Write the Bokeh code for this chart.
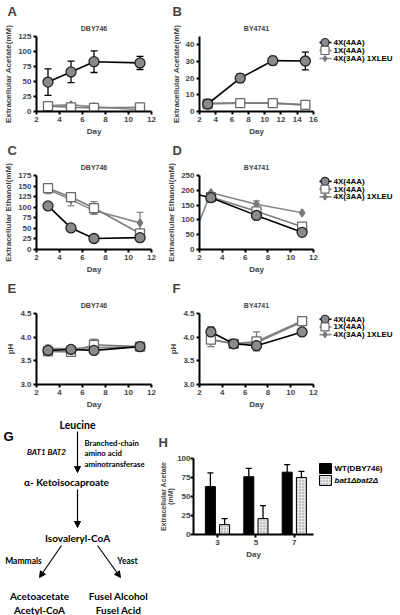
import numpy as np
from bokeh.plotting import figure
from bokeh.models import (Range1d, FixedTicker, Whisker, Title,
                          ColumnDataSource, TeeHead, Arrow, NormalHead, PrintfTickFormatter)
from bokeh.layouts import column, row
from bokeh.transform import dodge
from bokeh.core.properties import value
from bokeh.embed import file_html
from bokeh.resources import INLINE

# ---------------- data ----------------
SERIES = ["4X(4AA)", "1X(4AA)", "4X(3AA) 1XLEU"]

A_days = [3, 5, 7, 11]
A_4x4 = [49, 66, 83, 81]
A_4x4_err = [22, 18, 18, 11]
A_1x4 = [9, 7, 6, 7]
A_1x4_err = [0, 0, 0, 0]
A_leu = [10, 11, 8, 3]
A_leu_err = [0, 0, 0, 0]

B_days = [3, 7, 11, 15]
B_4x4 = [4.5, 20, 30.5, 30.3]
B_4x4_err = [0, 2.5, 2.5, 5.3]
B_1x4 = [4.5, 5, 5, 4]
B_1x4_err = [0, 0, 0, 0]
B_leu = [5, 5, 5, 4]
B_leu_err = [0, 0, 0, 0]

C_days = [3, 5, 7, 11]
C_4x4 = [103, 51, 26, 28]
C_4x4_err = [4, 0, 0, 0]
C_1x4 = [145, 124, 98, 38]
C_1x4_err = [8, 8, 15, 0]
C_leu = [142, 118, 92, 63]
C_leu_err = [10, 15, 8, 25]

D_days = [2, 3, 7, 11]
D_4x4 = [184, 175, 115, 58]
D_4x4_err = [0, 0, 0, 0]
D_1x4 = [np.nan, 177, 129, 77]
D_1x4_err = [0, 0, 0, 0]
D_leu = [96, 192, 153, 124]
D_leu_err = [0, 0, 11, 0]

E_days = [3, 5, 7, 11]
E_4x4 = [3.72, 3.74, 3.72, 3.80]
E_4x4_err = [0, 0, 0, 0]
E_1x4 = [3.70, 3.69, 3.84, 3.80]
E_1x4_err = [0, 0.07, 0.12, 0]
E_leu = [3.76, 3.76, 3.78, 3.80]
E_leu_err = [0.07, 0.04, 0, 0]

F_days = [3, 5, 7, 11]
F_4x4 = [4.11, 3.86, 3.82, 4.11]
F_4x4_err = [0.1, 0, 0, 0]
F_1x4 = [3.95, 3.86, 3.91, 4.34]
F_1x4_err = [0.15, 0, 0.2, 0]
F_leu = [3.95, 3.86, 3.88, 4.32]
F_leu_err = [0, 0, 0, 0]

H_days = [3, 5, 7]
H_wt = [63, 76, 82]
H_wt_err = [18, 11, 10]
H_bat = [13, 21, 75]
H_bat_err = [8, 17, 8]
H_LABELS = ["WT(DBY746)", "bat1\u0394bat2\u0394"]

# ---------------- style helpers ----------------
FONT = "Liberation Sans"
DIAG_FONT = "Lato"

STY = {
    0: dict(line="black", marker="circle", size=10, fill="#8a8a8a", mline="#222222"),
    1: dict(line="#7d7d7d", marker="square", size=9, fill="white", mline="#6a6a6a"),
    2: dict(line="#8a8a8a", marker="diamond", size=8, fill="#7a7a7a", mline="#7a7a7a"),
}
LEG_SIZE = [8, 8, 6]


def make_fig(w, h, bl, br, bt, bb, xr, yr, axes=True):
    kw = {} if axes else dict(x_axis_type=None, y_axis_type=None)
    p = figure(width=w, height=h, x_range=Range1d(*xr), y_range=Range1d(*yr),
               output_backend="svg", toolbar_location=None, title=None,
               min_border_left=bl, min_border_right=br, min_border_top=bt,
               min_border_bottom=bb, **kw)
    p.grid.visible = False
    p.outline_line_color = None
    p.background_fill_color = "white"
    return p


def style_axes(p, xlab, ylab, xticks, yticks):
    for ax in p.axis:
        ax.axis_line_width = 2
        ax.axis_line_color = "black"
        ax.major_tick_line_width = 2
        ax.major_tick_out = 3
        ax.major_tick_in = 0
        ax.minor_tick_out = 0
        ax.minor_tick_in = 0
        ax.major_label_text_font = FONT
        ax.major_label_text_font_style = "bold"
        ax.major_label_text_font_size = "8px"
        ax.major_label_standoff = 2
        ax.axis_label_text_font = FONT
        ax.axis_label_text_font_style = "bold"
        ax.axis_label_text_font_size = "8px"
        ax.axis_label_standoff = 2
    p.xaxis.axis_label = xlab
    p.yaxis.axis_label = ylab
    p.xaxis.ticker = FixedTicker(ticks=xticks)
    p.yaxis.ticker = FixedTicker(ticks=yticks)


def add_headers(p, strain, letter, letter_offset, letter_standoff=0):
    # first added sits closest to the frame
    if strain:
        p.add_layout(Title(text=strain, align="center", text_font=FONT, text_font_style="bold",
                           text_font_size="7px", standoff=9), "above")
    p.add_layout(Title(text=letter, align="left", offset=letter_offset, text_font=FONT,
                       text_font_style="bold", text_font_size="13px",
                       standoff=letter_standoff), "above")


def add_series(p, days, vals, errs, k, first_marker=0):
    s = STY[k]
    p.line(days, vals, line_color=s["line"], line_width=1.6)
    wd = [d for d, v, e in zip(days, vals, errs) if e > 0]
    wu = [v + e for d, v, e in zip(days, vals, errs) if e > 0]
    wl = [v - e for d, v, e in zip(days, vals, errs) if e > 0]
    if wd:
        src = ColumnDataSource(dict(x=wd, up=wu, lo=wl))
        p.add_layout(Whisker(base="x", upper="up", lower="lo", source=src,
                             line_color=s["line"], line_width=1.3,
                             upper_head=TeeHead(size=7, line_color=s["line"], line_width=1.3),
                             lower_head=TeeHead(size=7, line_color=s["line"], line_width=1.3)))
    p.scatter(days[first_marker:], vals[first_marker:], marker=s["marker"], size=s["size"],
              fill_color=s["fill"], line_color=s["mline"], line_width=1.3)


# ---------------- layout geometry (page px, origin top-left) ----------------
LW = 160
RPW = 159          # right plot canvas width (160..319)
LEGW = 400 - LW - RPW
ROWS = [(0, 140, 36, 111), (140, 138, 173, 249), (278, 138, 310, 384)]
L_FL, L_FR = 36, 151
R_FL, R_FR = 199, 313


def legend_fig(rowi):
    """Key for the three series, drawn in page-pixel coordinates."""
    top, h, ft, fb = ROWS[rowi]
    x0 = LW + RPW
    q = make_fig(LEGW, h, 0, 0, ft - top, top + h - fb, (x0, x0 + LEGW), (fb, ft), axes=False)
    for k in range(3):
        s = STY[k]
        y = ft + 6 + 8 * k
        q.segment(x0=[x0 - 1], x1=[x0 + 12], y0=[y], y1=[y], line_color=s["line"], line_width=1.6)
        q.scatter([x0 + 5.5], [y], marker=s["marker"], size=LEG_SIZE[k], fill_color=s["fill"],
                  line_color=s["mline"], line_width=1.2)
        q.text([x0 + 14], [y], text=[SERIES[k]], text_font=value(FONT), text_font_style="bold",
               text_font_size="8px", text_baseline="middle", text_align="left")
    return q


def line_panel(col, rowi, xr, yr, xticks, yticks, ylab, data, letter, strain,
               first_marker=0, letter_x=7):
    top, h, ft, fb = ROWS[rowi]
    if col == 0:
        x0, w, fl, fr = 0, LW, L_FL, L_FR
    else:
        x0, w, fl, fr = LW, RPW, R_FL, R_FR
    p = make_fig(w, h, fl - x0, x0 + w - fr, ft - top, top + h - fb, xr, yr)
    style_axes(p, "Day", ylab, xticks, yticks)
    for k in (2, 1, 0):
        days, vals, errs = data[k]
        add_series(p, days, vals, errs, k, first_marker)
    add_headers(p, strain, letter, letter_x - fl)
    return p


pA = line_panel(0, 0, (2, 12), (0, 125), [2, 4, 6, 8, 10, 12], [0, 25, 50, 75, 100, 125],
                "Extracellular Acetate(mM)",
                [(A_days, A_4x4, A_4x4_err), (A_days, A_1x4, A_1x4_err), (A_days, A_leu, A_leu_err)],
                "A", "DBY746")
pB = line_panel(1, 0, (2, 16), (0, 45), [2, 4, 6, 8, 10, 12, 14, 16], [0, 10, 20, 30, 40],
                "Extracellular Acetate(mM)",
                [(B_days, B_4x4, B_4x4_err), (B_days, B_1x4, B_1x4_err), (B_days, B_leu, B_leu_err)],
                "B", "BY4741", letter_x=172)
pC = line_panel(0, 1, (2, 12), (0, 175), [2, 4, 6, 8, 10, 12], [0, 25, 50, 75, 100, 125, 150, 175],
                "Extracellular Ethanol(mM)",
                [(C_days, C_4x4, C_4x4_err), (C_days, C_1x4, C_1x4_err), (C_days, C_leu, C_leu_err)],
                "C", "DBY746")
pD = line_panel(1, 1, (2, 12), (0, 250), [2, 4, 6, 8, 10, 12], [0, 50, 100, 150, 200, 250],
                "Extracellular Ethanol(mM)",
                [(D_days, D_4x4, D_4x4_err), (D_days, D_1x4, D_1x4_err), (D_days, D_leu, D_leu_err)],
                "D", "BY4741", first_marker=1, letter_x=172)
pE = line_panel(0, 2, (2, 12), (3.0, 4.5), [2, 4, 6, 8, 10, 12], [3.0, 3.5, 4.0, 4.5], "pH",
                [(E_days, E_4x4, E_4x4_err), (E_days, E_1x4, E_1x4_err), (E_days, E_leu, E_leu_err)],
                "E", "DBY746")
pF = line_panel(1, 2, (2, 12), (3.0, 4.5), [2, 4, 6, 8, 10, 12], [3.0, 3.5, 4.0, 4.5], "pH",
                [(F_days, F_4x4, F_4x4_err), (F_days, F_1x4, F_1x4_err), (F_days, F_leu, F_leu_err)],
                "F", "BY4741", letter_x=172)
for p in (pE, pF):
    p.yaxis.formatter = PrintfTickFormatter(format="%.1f")

legB = legend_fig(0)
legD = legend_fig(1)
legF = legend_fig(2)

# ---------------- G: pathway diagram ----------------
GW = 148
G_TOP, G_H = 416, 199
pG = make_fig(GW, G_H, 0, 0, 0, 0, (0, GW), (G_TOP + G_H, G_TOP), axes=False)

g_bold = dict(text_font=value(DIAG_FONT), text_font_style="bold", text_baseline="middle",
              text_color="black")
pG.text(x=[3], y=[436], text=["G"], text_align="left", text_font_size="13px",
        text_font=value(FONT), text_font_style="bold", text_baseline="middle")
pG.text(x=[77], y=[424], text=["Leucine"], text_align="center", text_font_size="10.5px", **g_bold)
pG.text(x=[46], y=[451], text=["BAT1 BAT2"], text_align="center", text_font_size="8px",
        text_font=value(DIAG_FONT), text_font_style="bold italic", text_baseline="middle")
pG.text(x=[84, 84, 84], y=[442, 452, 463], text=["Branched-chain", "amino acid", "aminotransferase"],
        text_align="left", text_font_size="7.8px", **g_bold)
pG.text(x=[66], y=[481], text=["\u03b1- Ketoisocaproate"], text_align="center",
        text_font_size="10px", **g_bold)
pG.text(x=[77], y=[537], text=["Isovaleryl-CoA"], text_align="center", text_font_size="10px", **g_bold)
pG.text(x=[23, 127], y=[560, 560], text=["Mammals", "Yeast"], text_align="center",
        text_font_size="8.5px", **g_bold)
pG.text(x=[39, 39, 118, 118], y=[595, 609, 595, 609],
        text=["Acetoacetate", "Acetyl-CoA", "Fusel Alcohol", "Fusel Acid"],
        text_align="center", text_font_size="10px", **g_bold)
for (xs, ys, xe, ye) in [(77, 431, 77, 472), (77, 489, 77, 527), (61, 545, 39, 577), (97, 545, 120, 577)]:
    pG.add_layout(Arrow(x_start=xs, y_start=ys, x_end=xe, y_end=ye, line_width=1.2,
                        end=NormalHead(size=6, fill_color="black", line_color="black")))

# ---------------- H: bar chart ----------------
H_X0 = GW
H_W = 316 - GW
H_FL, H_FR, H_FT, H_FB = 193, 313, 458, 534
pH = make_fig(H_W, G_H, H_FL - H_X0, H_X0 + H_W - H_FR, H_FT - G_TOP, G_TOP + G_H - H_FB,
              (1.75, 8.0), (0, 100))
style_axes(pH, "Day", "Extracellular Acetate\n(mM)", H_days, [0, 25, 50, 75, 100])
pH.yaxis.axis_label_text_font_size = "7px"
pH.yaxis.axis_label_text_line_height = 1.05
pH.yaxis.major_label_standoff = 0
pH.yaxis.axis_label_standoff = 0
hsrc = ColumnDataSource(dict(day=H_days, wt=H_wt, bat=H_bat,
                             wt_up=[v + e for v, e in zip(H_wt, H_wt_err)],
                             bat_up=[v + e for v, e in zip(H_bat, H_bat_err)]))
off = 0.37
for fld, upf, dx in (("wt", "wt_up", -off), ("bat", "bat_up", off)):
    pH.add_layout(Whisker(base=dodge("day", dx, range=pH.x_range), upper=upf, lower=fld, source=hsrc,
                          line_color="black", line_width=1.3,
                          upper_head=TeeHead(size=6, line_color="black", line_width=1.3),
                          lower_head=None, level="underlay"))
BAR_STY = [dict(fill_color="black", line_color="black", line_width=1),
           dict(fill_color="#e6e6e6", line_color="black", line_width=1,
                hatch_pattern="dot", hatch_color="#888888", hatch_scale=3, hatch_weight=0.6)]
pH.vbar(x=dodge("day", -off, range=pH.x_range), top="wt", width=0.52, source=hsrc, **BAR_STY[0])
pH.vbar(x=dodge("day", off, range=pH.x_range), top="bat", width=0.52, source=hsrc, **BAR_STY[1])
pH.add_layout(Title(text="H", align="left", offset=-35, text_font=FONT,
                    text_font_style="bold", text_font_size="13px", standoff=17), "above")

LHX0 = H_X0 + H_W
LHW = 400 - LHX0
legH = make_fig(LHW, G_H, 0, 0, H_FT - G_TOP, G_TOP + G_H - H_FB,
                (LHX0, LHX0 + LHW), (H_FB, H_FT), axes=False)
for i, (lab, st) in enumerate(zip(H_LABELS, ["bold", "bold italic"])):
    cy = H_FT + 10 + 12 * i
    legH.rect([LHX0 + 9], [cy], width=12, height=10, **BAR_STY[i])
    legH.text([LHX0 + 18], [cy], text=[lab], text_font=value(FONT), text_font_style=st,
              text_font_size="8px", text_baseline="middle", text_align="left")

layout = column(row(pA, pB, legB), row(pC, pD, legD), row(pE, pF, legF),
                row(pG, column(row(pH, legH))))
open("out.html", "w").write(file_html(layout, INLINE))
